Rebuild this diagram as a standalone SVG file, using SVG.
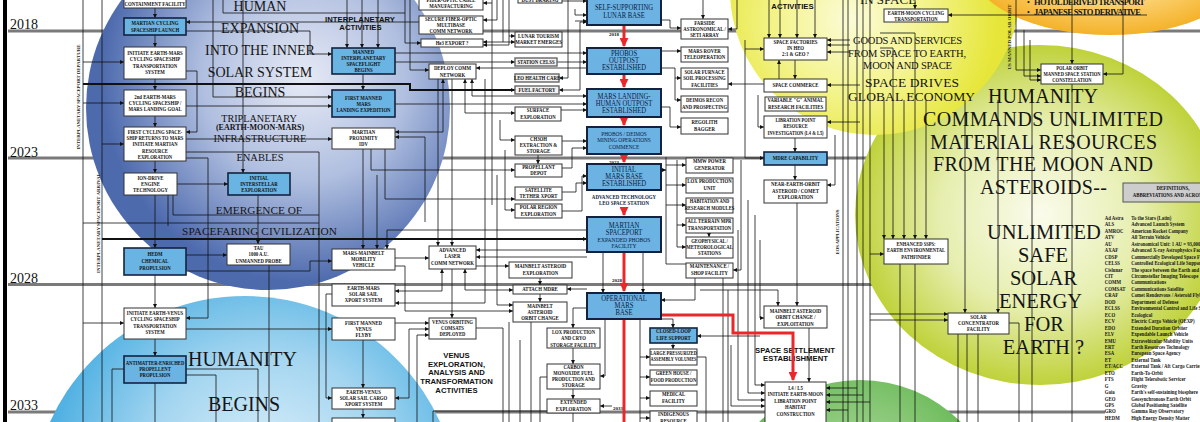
<svg xmlns="http://www.w3.org/2000/svg" width="1200" height="422" viewBox="0 0 1200 422">
<defs>
<radialGradient id="gB" cx="0.6" cy="0.42" r="0.56"><stop offset="0" stop-color="#e6eaf5"/><stop offset="0.5" stop-color="#b0bfe0"/><stop offset="1" stop-color="#4d6aad"/></radialGradient>
<radialGradient id="gL" cx="0.55" cy="0.42" r="0.52"><stop offset="0" stop-color="#e2f2fb"/><stop offset="0.55" stop-color="#a3d5f0"/><stop offset="1" stop-color="#4cafe2"/></radialGradient>
<radialGradient id="gY" cx="0.42" cy="0.6" r="0.5"><stop offset="0" stop-color="#fbfbd8"/><stop offset="0.5" stop-color="#f4f490"/><stop offset="1" stop-color="#e6e63a"/></radialGradient>
<radialGradient id="gO" cx="0.5" cy="0.5" r="0.5"><stop offset="0" stop-color="#fff0c0"/><stop offset="0.55" stop-color="#fcd273"/><stop offset="1" stop-color="#f4b22a"/></radialGradient>
<radialGradient id="gG" cx="0.5" cy="0.5" r="0.5"><stop offset="0" stop-color="#fafcec"/><stop offset="0.55" stop-color="#e6eeae"/><stop offset="1" stop-color="#bfd23a"/></radialGradient>
<radialGradient id="gD" cx="0.5" cy="0.35" r="0.55"><stop offset="0" stop-color="#b4dca4"/><stop offset="1" stop-color="#55b042"/></radialGradient>
<marker id="ar" viewBox="0 0 6 6" refX="6" refY="3" markerWidth="4" markerHeight="4" markerUnits="userSpaceOnUse" orient="auto-start-reverse"><path d="M0 0L6 3L0 6z" fill="#111"/></marker>
<marker id="ra" viewBox="0 0 10 10" refX="9" refY="5" markerWidth="9" markerHeight="9" markerUnits="userSpaceOnUse" orient="auto"><path d="M0 0L10 5L0 10z" fill="#e8282a"/></marker>
</defs>
<style>
.w{fill:#fff;stroke:#333;stroke-width:1}
.gr{fill:#f3f3f3;stroke:#666;stroke-width:1.4}
.b{fill:#6ab4e4;stroke:#13233f;stroke-width:1.6}
.mb{fill:#6cb2e2;stroke:#13233f;stroke-width:2}
.s{font-family:"Liberation Serif","Times New Roman",serif;font-weight:bold;font-size:6px;text-anchor:middle;fill:#111}
.m{font-family:"Liberation Serif","Times New Roman",serif;font-size:7.4px;text-anchor:middle;fill:#0b1c44}
.m2{font-family:"Liberation Serif","Times New Roman",serif;font-size:6.2px;text-anchor:middle;fill:#0b1c44}
.big{font-family:"Liberation Serif","Times New Roman",serif;text-anchor:middle;fill:#151515}
.hs{font-family:"Liberation Sans",Arial,sans-serif;font-weight:bold;font-size:7.7px;text-anchor:middle;fill:#111}
.yr{font-family:"Liberation Serif","Times New Roman",serif;font-size:14px;fill:#111}
.ys{font-family:"Liberation Serif","Times New Roman",serif;font-weight:bold;font-size:5px;fill:#111}
.vt{font-family:"Liberation Serif","Times New Roman",serif;font-weight:bold;font-size:5px;text-anchor:middle;fill:#222}
.def{font-family:"Liberation Serif","Times New Roman",serif;font-weight:bold;font-size:6px;fill:#161616}
.c path{fill:none;stroke:#111;stroke-width:.8}
.c .a{marker-end:url(#ar)}
.c .bi{marker-start:url(#ar);marker-end:url(#ar)}
.c .th{stroke-width:2}
.c .red{stroke:#e8282a;stroke-width:3;marker-end:url(#ra)}
.c .rn{stroke:#e8282a;stroke-width:3}
</style>
<rect width="1200" height="422" fill="#fff"/>
<rect x="3" y="0" width="4" height="422" fill="#000"/>
<g id="yearlines"><path d="M8 31H1200M8 158H1200M8 284.5H1200M8 412H1105" stroke="#7a7a7a" stroke-width="3" fill="none"/></g>
<g id="backdrop">
<ellipse cx="1040" cy="215" rx="185" ry="170" fill="url(#gG)"/>
<circle cx="860" cy="522" r="142" fill="url(#gD)"/>
<circle cx="875" cy="-10" r="145" fill="url(#gY)"/>
<ellipse cx="1110" cy="-35" rx="140" ry="70" fill="url(#gO)"/>
<circle cx="245" cy="510" r="214" fill="url(#gL)"/>
<circle cx="268" cy="108" r="182" fill="url(#gB)"/>
</g>
<g id="themes" class="big">
<text x="260" y="11" font-size="14">HUMAN</text>
<text x="260" y="33" font-size="14">EXPANSION</text>
<text x="260" y="55" font-size="14">INTO THE INNER</text>
<text x="260" y="77" font-size="14">SOLAR SYSTEM</text>
<text x="260" y="97" font-size="14">BEGINS</text>
<text x="259" y="121.5" font-size="10.2">TRIPLANETARY</text>
<text x="260" y="129.5" font-size="8" font-weight="bold">(EARTH-MOON-MARS)</text>
<text x="260" y="141.5" font-size="10.5">INFRASTRUCTURE</text>
<text x="260" y="161" font-size="10.5">ENABLES</text>
<text x="259" y="214" font-size="11.3">EMERGENCE OF</text>
<text x="259.5" y="235" font-size="11.3" textLength="155">SPACEFARING CIVILIZATION</text>
<text x="242.5" y="366" font-size="20">HUMANITY</text>
<text x="244" y="411" font-size="20">BEGINS</text>
<text x="888" y="3.5" font-size="13">IN SPACE</text>
<text x="907.5" y="44" font-size="10.5" textLength="109">GOODS AND SERVICES</text>
<text x="907" y="57" font-size="10.5" textLength="118">FROM SPACE TO EARTH,</text>
<text x="907.5" y="68.5" font-size="10.5" textLength="89">MOON AND SPACE</text>
<text x="912" y="87" font-size="13.5" textLength="94">SPACE DRIVES</text>
<text x="911.5" y="101" font-size="13.5" textLength="127">GLOBAL ECONOMY</text>
<text x="1043" y="102.5" font-size="20" textLength="110">HUMANITY</text>
<text x="1043" y="125.5" font-size="20" textLength="240">COMMANDS UNLIMITED</text>
<text x="1043.5" y="148.5" font-size="20" textLength="227">MATERIAL RESOURCES</text>
<text x="1043" y="171" font-size="20" textLength="220">FROM THE MOON AND</text>
<text x="1043.5" y="194" font-size="20" textLength="127">ASTEROIDS--</text>
<text x="1044" y="239" font-size="20.5">UNLIMITED</text>
<text x="1043" y="262" font-size="20.5">SAFE</text>
<text x="1043.5" y="285" font-size="20.5">SOLAR</text>
<text x="1040.5" y="308" font-size="20.5">ENERGY</text>
<text x="1044" y="331" font-size="20.5">FOR</text>
<text x="1043.5" y="354" font-size="20.5">EARTH ?</text>
<text x="1027" y="5" font-size="8" text-anchor="start">•</text>
<text x="1027" y="15" font-size="8" text-anchor="start">•</text>
<text x="1034" y="5" font-size="8.5" font-weight="bold" text-anchor="start" textLength="111">HOTOL DERIVED TRANSPORT</text>
<text x="1034" y="15" font-size="8.5" font-weight="bold" text-anchor="start" textLength="107">JAPANESE SSTO DERIVATIVE</text>
</g>
<g id="activity-labels" class="hs">
<text x="360" y="22" textLength="70">INTERPLANETARY</text>
<text x="360.5" y="30">ACTIVITIES</text>
<text x="792.5" y="8.5">ACTIVITIES</text>
<text x="795" y="353" textLength="80">SPACE SETTLEMENT</text>
<text x="795.5" y="360.5">ESTABLISHMENT</text>
<text x="456.5" y="358">VENUS</text>
<text x="456.5" y="366.7">EXPLORATION,</text>
<text x="456.5" y="375.4">ANALYSIS AND</text>
<text x="456.5" y="384.1">TRANSFORMATION</text>
<text x="456.5" y="392.8">ACTIVITIES</text>
</g>
<g id="years">
<text class="yr" x="10" y="29">2018</text>
<text class="yr" x="10" y="157">2023</text>
<text class="yr" x="10" y="283">2028</text>
<text class="yr" x="10" y="410">2033</text>
<text class="ys" x="609" y="36">2018</text>
<text class="ys" x="609" y="164">2023</text>
<text class="ys" x="612" y="282">2028</text>
<text class="ys" x="613" y="410">2033</text>
<text class="vt" transform="translate(80 97) rotate(-90)" textLength="105">INTERPLANETARY SPACEPORT DEPARTURE</text>
<text class="vt" transform="translate(99.5 223) rotate(-90)" textLength="100">INTERPLANETARY SPACEPORT ARRIVAL</text>
<text class="vt" transform="translate(1011 37) rotate(-90)" textLength="65">US MANNED POLAR ORBIT</text>
<text class="vt" transform="translate(838.5 232) rotate(-90)" textLength="45">EOS APPLICATIONS</text>
</g>
<g id="connectors" class="c">
<path d="M83 0V422M102 0V422"/>
<path class="a" d="M155 8V18"/><path class="a" d="M155 35V47"/><path class="a" d="M155 79V90"/><path class="a" d="M155 116V127"/><path class="a" d="M155 161V173"/><path class="a" d="M155 195V248"/><path class="a" d="M155 275V308"/><path class="a" d="M155 339V356"/><path d="M155 383V422"/>
<path class="a" d="M83 62H124"/><path class="a" d="M83 103H124"/><path class="a" d="M102 144H124"/><path class="a" d="M83 323H124"/>
<path class="a th" d="M83 84H410V90H515"/>
<path class="a th" d="M102 239H587"/>
<path class="a" d="M419 22H186"/>
<path class="a" d="M186 31H310V54H332"/>
<path class="a" d="M186 71H197V132H186"/>
<path class="a" d="M186 139H332"/>
<path d="M186 152H319V422"/>
<path class="a" d="M186 158H208V318H186"/>
<path class="a" d="M177 184H228"/>
<path d="M173 195V215H319M168 195V226"/>
<path class="a" d="M243 0V173"/>
<path class="a" d="M258 195V244"/>
<path class="a" d="M186 255H227"/>
<path class="a" d="M186 271H310V261H332"/>
<path d="M269 265V422"/>
<path class="a" d="M186 329H332"/>
<path d="M124 369H112V422M186 369H258V422M186 375H216V422"/>
<path class="a" d="M213 0V97H332"/>
<path d="M223 0V13H405"/>
<path d="M83 223H319"/>
<path class="a" d="M347 0V48"/><path class="a" d="M362 0V48"/><path class="a" d="M378 0V48"/>
<path class="a" d="M395 53H587"/>
<path class="a" d="M395 62H515"/>
<path class="a" d="M363 74V90"/>
<path class="a" d="M186 106H332"/>
<path class="a" d="M395 104H587"/>
<path class="bi" d="M395 132H443V79"/>
<path class="a" d="M405 0V43H421"/>
<path class="a" d="M410 0V70H429"/>
<path class="a" d="M587 68H476"/>
<path class="bi" d="M515 113H465V79"/>
<path class="bi" d="M587 96H472V79"/>
<path class="a" d="M438 79V246"/>
<path class="a" d="M452 79V246"/>
<path class="a" d="M385 149V199H515"/>
<path class="a" d="M371 149V170H515"/>
<path class="a" d="M363 149V249"/>
<path class="a" d="M377 175V249"/>
<path class="a" d="M587 230H387V249"/>
<path class="a" d="M425 137H395"/><path d="M425 137V222"/>
<path d="M492 0V205"/>
<path class="a" d="M497 0V20H483"/>
<path class="a" d="M503 0V42H515"/>
<path class="a" d="M503 42H483"/>
<path class="a" d="M509 0V45H483"/>
<path class="a" d="M492 3H483"/>
<path class="a" d="M509 36H515"/>
<path class="a" d="M500 120V140H515"/>
<path class="a" d="M505 150V210H515"/>
<path class="a" d="M497 175V305H513"/>
<path class="a" d="M562 1H587"/>
<path class="a" d="M575 9V15H587"/><path class="a" d="M575 21H587"/>
<path class="a" d="M568 0V78H559"/>
<path class="bi" d="M587 22H580V90H559"/>
<path class="a" d="M557 62H587"/>
<path class="a" d="M561 110H587"/>
<path class="a" d="M562 141H587"/>
<path class="a" d="M538 155V164"/>
<path class="a" d="M562 168H572V148H587"/>
<path class="a" d="M562 192H576V183H587"/>
<path class="a" d="M562 211H582V176H587"/>
<path class="a" d="M540 278V285"/>
<path class="a" d="M540 294V302"/>
<path class="a" d="M587 289H567"/>
<path class="a" d="M476 266H509"/>
<path class="a" d="M587 250H476"/>
<path class="a" d="M587 257H476"/>
<path class="a" d="M395 258H429"/>
<path class="a" d="M395 266H405V311H513"/>
<path class="bi" d="M395 291H442V269"/>
<path class="bi" d="M513 290H465V269"/>
<path class="a" d="M485 79V303H395"/>
<path class="a" d="M452 269V318"/>
<path class="a" d="M332 294H326V398H332"/>
<path class="a" d="M363 340V388"/>
<path class="a" d="M395 323H429"/>
<path class="bi" d="M395 398H409V329H429"/>
<path class="a" d="M417 422V335H429"/>
<path d="M476 328H503V422"/>
<path d="M531 322V422M509 322V422M520 340V422"/>
<path class="a" d="M587 308H573V328"/>
<path class="a" d="M573 348V364"/>
<path class="a" d="M573 389V399"/>
<path d="M573 413V422"/>
<path class="a" d="M605 319V376H600"/>
<path class="a" d="M612 406H600"/>
<path d="M547 377H540V422"/>
<path d="M433 411H547M433 411V422"/>
<path class="a" d="M363 409V418"/>
<path class="a" d="M661 20H670V28H681"/>
<path class="a" d="M703 0V19"/>
<path class="a" d="M737 0V29H728"/>
<path class="a" d="M661 51H681"/>
<path class="a" d="M661 68H675V100H681"/>
<path class="a" d="M675 78H681"/>
<path class="a" d="M661 107H670V127H681"/>
<path class="a" d="M764 84H728"/>
<path d="M666 157V264H686"/>
<path class="a" d="M661 170H666"/>
<path class="a" d="M666 165H686"/><path class="a" d="M666 185H686"/><path class="a" d="M666 205H686"/>
<path class="a" d="M677 160V247H686"/>
<path class="a" d="M677 225H686"/>
<path class="a" d="M709 233V237"/>
<path class="a" d="M741 160V270H733"/>
<path class="a" d="M695 278V300H661"/>
<path class="a" d="M603 252V293"/>
<path class="a" d="M643 252V293"/>
<path class="a" d="M661 319H673V328"/>
<path class="a" d="M673 343V349"/>
<path class="a" d="M760 336H697"/>
<path d="M640 319V422"/>
<path class="a" d="M640 357H650"/><path class="a" d="M640 377H650"/><path class="a" d="M640 398H650"/><path class="a" d="M640 418H650"/>
<path d="M697 357H706V422M723 270V422M728 290V422"/>
<path class="a" d="M769 0V38"/><path class="a" d="M780 0V38"/><path class="a" d="M797 0V38"/><path class="a" d="M815 0V38"/>
<path class="a" d="M745 40V158H764"/>
<path class="a" d="M745 49H764"/>
<path class="a" d="M850 40H827"/><path class="a" d="M850 45H827"/><path class="a" d="M850 52H827"/>
<path class="a" d="M795 60V79"/>
<path class="a" d="M779 79V60"/>
<path class="a" d="M860 85H827"/>
<path class="a" d="M795 138V152"/>
<path class="a" d="M795 165V180"/>
<path class="a" d="M758 95V127H764"/>
<path class="a" d="M860 122H827"/>
<path class="a" d="M835 135V185H827"/>
<path class="a" d="M797 203V306"/>
<path class="a" d="M700 290H778V306"/>
<path class="a" d="M809 328V382"/>
<path class="a" d="M760 240V318H764"/>
<path class="a" d="M755 215V385H765"/>
<path class="a" d="M748 200V393H765"/>
<path class="a" d="M738 230V400H765"/>
<path class="a" d="M731 345V406H765"/>
<path class="a" d="M857 388H826"/><path class="a" d="M863 395H826"/><path class="a" d="M870 402H826"/><path class="a" d="M848 410H826"/>
<path d="M843 0V422M848 0V422M857 0V422M863 0V422M870 0V422"/>
<path class="a" d="M915 0V9"/>
<path class="a" d="M1147 15H948"/>
<path class="a" d="M1072 0V64"/>
<path class="a" d="M1016 0V70H1041"/><path class="a" d="M1024 30V76H1041"/><path class="a" d="M1030 40V80H1041"/>
<path class="a" d="M1123 0V74H1103"/>
<path d="M1032 90V422M1072 84V422"/>
<path class="a" d="M965 100V313"/>
<path class="a" d="M998 100V313"/>
<path class="a" d="M884 100V239"/><path class="a" d="M893 100V239"/><path class="a" d="M904 100V239"/><path class="a" d="M915 100V239"/><path class="a" d="M926 100V239"/>
<path d="M880 33H915V100M880 48H893V100"/>
<path d="M900 264V422M915 264V422"/>
<path class="a" d="M870 254H884"/>
<path class="a" d="M870 314H948"/><path class="a" d="M870 320H948"/>
<path d="M958 334V422M967 334V422M978 334V422"/>
<path d="M1009 323H1019V422"/>
<path class="red" d="M624 25V46"/>
<path class="red" d="M624 74V87"/>
<path class="red" d="M624 117V125"/>
<path class="red" d="M624 154V162"/>
<path class="red" d="M624 207V215"/>
<path class="red" d="M624 252V291"/>
<path class="rn" d="M624 319V422"/>
<path class="red" d="M661 315H733V333H793V380"/>
</g>
<g id="n-containment"><rect class="w" x="124" y="-6" width="62" height="14"/><g transform="translate(155 0) scale(.8 1)"><text class="s" x="0" y="5.5">CONTAINMENT FACILITY</text></g></g>
<g id="n-martian-cycling-launch"><rect class="b" x="124" y="18" width="62" height="17"/><g transform="translate(155 0) scale(.8 1)"><text class="s" x="0" y="25.5">MARTIAN CYCLING</text><text class="s" x="0" y="32">SPACESHIP LAUNCH</text></g></g>
<g id="n-earth-mars-cycling"><rect class="w" x="124" y="47" width="62" height="32"/><g transform="translate(155 0) scale(.8 1)"><text class="s" x="0" y="55">INITIATE EARTH-MARS</text><text class="s" x="0" y="61.5">CYCLING SPACESHIP</text><text class="s" x="0" y="68">TRANSPORTATION</text><text class="s" x="0" y="74.5">SYSTEM</text></g></g>
<g id="n-2nd-earth-mars"><rect class="w" x="124" y="90" width="62" height="26"/><g transform="translate(155 0) scale(.8 1)"><text class="s" x="0" y="99">2nd EARTH-MARS</text><text class="s" x="0" y="105">CYCLING SPACESHIP /</text><text class="s" x="0" y="111">MARS LANDING GOAL</text></g></g>
<g id="n-first-cycling"><rect class="w" x="124" y="127" width="62" height="34"/><g transform="translate(155 0) scale(.78 1)"><text class="s" x="0" y="134">FIRST CYCLING SPACE-</text><text class="s" x="0" y="140">SHIP RETURNS TO MARS</text><text class="s" x="0" y="146.5">INITIATE MARTIAN</text><text class="s" x="0" y="153">RESOURCE</text><text class="s" x="0" y="159">EXPLORATION</text></g></g>
<g id="n-ion-drive"><rect class="w" x="124" y="173" width="53" height="22"/><g transform="translate(150.5 0) scale(.8 1)"><text class="s" x="0" y="180">ION-DRIVE</text><text class="s" x="0" y="186">ENGINE</text><text class="s" x="0" y="192.5">TECHNOLOGY</text></g></g>
<g id="n-interstellar"><rect class="b" x="228" y="173" width="62" height="22"/><g transform="translate(259 0) scale(.8 1)"><text class="s" x="0" y="180">INITIAL</text><text class="s" x="0" y="186">INTERSTELLAR</text><text class="s" x="0" y="192.5">EXPLORATION</text></g></g>
<g id="n-hedm"><rect class="b" x="124" y="248" width="62" height="27"/><g transform="translate(155 0) scale(.8 1)"><text class="s" x="0" y="256">HEDM</text><text class="s" x="0" y="263">CHEMICAL</text><text class="s" x="0" y="270">PROPULSION</text></g></g>
<g id="n-tau"><rect class="w" x="227" y="244" width="63" height="21"/><g transform="translate(258.5 0) scale(.8 1)"><text class="s" x="0" y="250">TAU</text><text class="s" x="0" y="256.5">1000 A.U.</text><text class="s" x="0" y="263">UNMANNED PROBE</text></g></g>
<g id="n-earth-venus-cycling"><rect class="w" x="124" y="308" width="62" height="31"/><g transform="translate(155 0) scale(.78 1)"><text class="s" x="0" y="315">INITIATE EARTH-VENUS</text><text class="s" x="0" y="321.5">CYCLING SPACESHIP</text><text class="s" x="0" y="328">TRANSPORTATION</text><text class="s" x="0" y="334.5">SYSTEM</text></g></g>
<g id="n-antimatter"><rect class="b" x="124" y="356" width="62" height="27"/><g transform="translate(155 0) scale(.78 1)"><text class="s" x="0" y="365">ANTIMATTER-ENRICHED</text><text class="s" x="0" y="371">PROPELLENT</text><text class="s" x="0" y="377">PROPULSION</text></g></g>
<g id="n-manned-interplanetary"><rect class="b" x="332" y="48" width="63" height="26"/><g transform="translate(363.5 0) scale(.8 1)"><text class="s" x="0" y="54">MANNED</text><text class="s" x="0" y="60">INTERPLANETARY</text><text class="s" x="0" y="66">SPACEFLIGHT</text><text class="s" x="0" y="72">BEGINS</text></g></g>
<g id="n-first-mars-landing"><rect class="b" x="332" y="90" width="63" height="27"/><g transform="translate(363.5 0) scale(.8 1)"><text class="s" x="0" y="100">FIRST MANNED</text><text class="s" x="0" y="106">MARS</text><text class="s" x="0" y="112">LANDING EXPEDITION</text></g></g>
<g id="n-proximity-idv"><rect class="w" x="332" y="128" width="63" height="21"/><g transform="translate(363.5 0) scale(.8 1)"><text class="s" x="0" y="134">MARTIAN</text><text class="s" x="0" y="140">PROXIMITY</text><text class="s" x="0" y="146">IDV</text></g></g>
<g id="n-deploy-comm"><rect class="w" x="429" y="64" width="47" height="15"/><g transform="translate(452.5 0) scale(.8 1)"><text class="s" x="0" y="70.5">DEPLOY COMM</text><text class="s" x="0" y="77">NETWORK</text></g></g>
<g id="n-fiber-cable"><rect class="w" x="419" y="-6" width="64" height="16"/><g transform="translate(451 0) scale(.8 1)"><text class="s" x="0" y="1.5">FIBER-OPTIC CABLE</text><text class="s" x="0" y="8">MANUFACTURING</text></g></g>
<g id="n-secure-fiber"><rect class="w" x="419" y="16" width="64" height="18"/><g transform="translate(451 0) scale(.8 1)"><text class="s" x="0" y="21">SECURE FIBER-OPTIC</text><text class="s" x="0" y="27">MULTIBASE</text><text class="s" x="0" y="33">COMM NETWORK</text></g></g>
<g id="n-he3"><rect class="w" x="421" y="39" width="62" height="8"/><g transform="translate(452 0) scale(.8 1)"><text class="s" x="0" y="45.3">He3 EXPORT ?</text></g></g>
<g id="n-dust-braking"><rect class="w" x="518" y="-6" width="44" height="9"/><g transform="translate(540 0) scale(.8 1)"><text class="s" x="0" y="1.5">DUST BRAKING</text></g></g>
<g id="n-lunar-tourism"><rect class="w" x="515" y="32" width="47" height="15"/><g transform="translate(538.5 0) scale(.8 1)"><text class="s" x="0" y="38">LUNAR TOURISM</text><text class="s" x="0" y="44.5">MARKET EMERGES</text></g></g>
<g id="n-station-celss"><rect class="gr" x="515" y="58" width="42" height="8"/><g transform="translate(536 0) scale(.8 1)"><text class="s" x="0" y="64.2">STATION CELSS</text></g></g>
<g id="n-leo-health"><rect class="gr" x="515" y="74" width="44" height="8"/><g transform="translate(537 0) scale(.8 1)"><text class="s" x="0" y="80.2">LEO HEALTH CARE</text></g></g>
<g id="n-fuel-factory"><rect class="gr" x="515" y="86" width="44" height="8"/><g transform="translate(537 0) scale(.8 1)"><text class="s" x="0" y="92.2">FUEL FACTORY</text></g></g>
<g id="n-surface-exploration"><rect class="w" x="515" y="107" width="46" height="14"/><g transform="translate(538 0) scale(.8 1)"><text class="s" x="0" y="112.5">SURFACE</text><text class="s" x="0" y="119">EXPLORATION</text></g></g>
<g id="n-ch3oh"><rect class="w" x="515" y="136" width="47" height="19"/><g transform="translate(538.5 0) scale(.8 1)"><text class="s" x="0" y="141.5">CH3OH</text><text class="s" x="0" y="147.5">EXTRACTION &amp;</text><text class="s" x="0" y="153.5">STORAGE</text></g></g>
<g id="n-propellant-depot"><rect class="w" x="515" y="164" width="47" height="13"/><g transform="translate(538.5 0) scale(.8 1)"><text class="s" x="0" y="169.5">PROPELLANT</text><text class="s" x="0" y="175.5">DEPOT</text></g></g>
<g id="n-tether"><rect class="w" x="515" y="187" width="47" height="13"/><g transform="translate(538.5 0) scale(.8 1)"><text class="s" x="0" y="192.5">SATELLITE</text><text class="s" x="0" y="198.5">TETHER XPORT</text></g></g>
<g id="n-polar-region"><rect class="w" x="515" y="204" width="47" height="14"/><g transform="translate(538.5 0) scale(.8 1)"><text class="s" x="0" y="209.5">POLAR REGION</text><text class="s" x="0" y="216">EXPLORATION</text></g></g>
<g id="n-lunar-base"><rect class="mb" x="587" y="-3" width="74" height="28"/><g transform="translate(624 0) scale(.9 1)"><text class="m" x="0" y="10.5">SELF-SUPPORTING</text><text class="m" x="0" y="18">LUNAR BASE</text></g></g>
<g id="n-phobos-outpost"><rect class="mb" x="587" y="48" width="74" height="26"/><g transform="translate(624 0) scale(.9 1)"><text class="m" x="0" y="56.5">PHOBOS</text><text class="m" x="0" y="63.5">OUTPOST</text><text class="m" x="0" y="70.5">ESTABLISHED</text></g></g>
<g id="n-mars-landing-outpost"><rect class="mb" x="587" y="89" width="74" height="28"/><g transform="translate(624 0) scale(.9 1)"><text class="m" x="0" y="99">MARS LANDING-</text><text class="m" x="0" y="106">HUMAN OUTPOST</text><text class="m" x="0" y="113">ESTABLISHED</text></g></g>
<g id="n-mining"><rect class="mb" x="587" y="127" width="74" height="27"/><g transform="translate(624 0) scale(.86 1)"><text class="m2" x="0" y="136">PHOBOS / DEIMOS</text><text class="m2" x="0" y="142.5">MINING OPERATIONS</text><text class="m2" x="0" y="149">COMMENCE</text></g></g>
<g id="n-initial-mars-base"><rect class="mb" x="587" y="164" width="74" height="26"/><g transform="translate(624 0) scale(.9 1)"><text class="m" x="0" y="172.5">INITIAL</text><text class="m" x="0" y="179.5">MARS BASE</text><text class="m" x="0" y="186.5">ESTABLISHED</text></g></g>
<g id="lbl-leo-station"><g transform="translate(624 0) scale(.82 1)"><text class="s" x="0" y="199.5" style="fill:#0b1c44">ADVANCED TECHNOLOGY</text><text class="s" x="0" y="205.5" style="fill:#0b1c44">LEO SPACE STATION</text></g></g>
<g id="n-martian-spaceport"><rect class="mb" x="587" y="217" width="74" height="35"/><g transform="translate(624 0) scale(.9 1)"><text class="m" x="0" y="228.5">MARTIAN</text><text class="m" x="0" y="235.5">SPACEPORT</text><text class="m2" x="0" y="242">EXPANDED PHOBOS</text><text class="m2" x="0" y="248">FACILITY</text></g></g>
<g id="n-operational-mars"><rect class="mb" x="587" y="293" width="74" height="26"/><g transform="translate(624 0) scale(.9 1)"><text class="m" x="0" y="301.5">OPERATIONAL</text><text class="m" x="0" y="308.5">MARS</text><text class="m" x="0" y="315.5">BASE</text></g></g>
<g id="n-farside"><rect class="w" x="681" y="19" width="47" height="20"/><g transform="translate(704.5 0) scale(.8 1)"><text class="s" x="0" y="25">FARSIDE</text><text class="s" x="0" y="31">ASTRONOMICAL /</text><text class="s" x="0" y="37">SETI ARRAY</text></g></g>
<g id="n-rover"><rect class="w" x="681" y="47" width="47" height="15"/><g transform="translate(704.5 0) scale(.8 1)"><text class="s" x="0" y="53">MARS ROVER</text><text class="s" x="0" y="59.5">TELEOPERATION</text></g></g>
<g id="n-solar-furnace"><rect class="w" x="681" y="68" width="47" height="21"/><g transform="translate(704.5 0) scale(.78 1)"><text class="s" x="0" y="74.5">SOLAR FURNACE</text><text class="s" x="0" y="80.5">SOIL PROCESSING</text><text class="s" x="0" y="87">FACILITIES</text></g></g>
<g id="n-deimos-recon"><rect class="w" x="681" y="96" width="47" height="16"/><g transform="translate(704.5 0) scale(.78 1)"><text class="s" x="0" y="102">DEIMOS RECON</text><text class="s" x="0" y="109">AND PROSPECTING</text></g></g>
<g id="n-regolith"><rect class="w" x="681" y="118" width="47" height="16"/><g transform="translate(704.5 0) scale(.8 1)"><text class="s" x="0" y="124.5">REGOLITH</text><text class="s" x="0" y="131">BAGGER</text></g></g>
<g id="n-mmw"><rect class="w" x="686" y="158" width="47" height="15"/><g transform="translate(709.5 0) scale(.8 1)"><text class="s" x="0" y="163.5">MMW POWER</text><text class="s" x="0" y="170">GENERATOR</text></g></g>
<g id="n-lox-unit"><rect class="w" x="686" y="178" width="47" height="15"/><g transform="translate(709.5 0) scale(.8 1)"><text class="s" x="0" y="183.5">LOX PRODUCTION</text><text class="s" x="0" y="190">UNIT</text></g></g>
<g id="n-habitation"><rect class="w" x="686" y="198" width="47" height="15"/><g transform="translate(709.5 0) scale(.76 1)"><text class="s" x="0" y="203.5">HABITATION AND</text><text class="s" x="0" y="210">RESEARCH MODULES</text></g></g>
<g id="n-all-terrain"><rect class="w" x="686" y="218" width="47" height="15"/><g transform="translate(709.5 0) scale(.78 1)"><text class="s" x="0" y="223.5">ALL TERRAIN MPR</text><text class="s" x="0" y="230">TRANSPORTATION</text></g></g>
<g id="n-geophysical"><rect class="w" x="686" y="237" width="47" height="21"/><g transform="translate(709.5 0) scale(.78 1)"><text class="s" x="0" y="243">GEOPHYSICAL /</text><text class="s" x="0" y="249">METEOROLOGICAL</text><text class="s" x="0" y="255.5">STATIONS</text></g></g>
<g id="n-maintenance"><rect class="w" x="686" y="263" width="47" height="15"/><g transform="translate(709.5 0) scale(.8 1)"><text class="s" x="0" y="268.5">MAINTENANCE /</text><text class="s" x="0" y="275">SHOP FACILITY</text></g></g>
<g id="n-closed-loop"><rect class="b" x="650" y="328" width="47" height="15"/><g transform="translate(673.5 0) scale(.8 1)"><text class="s" x="0" y="333.5">CLOSED-LOOP</text><text class="s" x="0" y="340">LIFE SUPPORT</text></g></g>
<g id="n-pressurized"><rect class="w" x="650" y="349" width="47" height="16"/><g transform="translate(673.5 0) scale(.72 1)"><text class="s" x="0" y="355">LARGE PRESSURIZED</text><text class="s" x="0" y="361.5">ASSEMBLY VOLUMES</text></g></g>
<g id="n-greenhouse"><rect class="w" x="650" y="370" width="47" height="15"/><g transform="translate(673.5 0) scale(.76 1)"><text class="s" x="0" y="375.5">GREEN HOUSE /</text><text class="s" x="0" y="382">FOOD PRODUCTION</text></g></g>
<g id="n-medical"><rect class="w" x="650" y="391" width="47" height="15"/><g transform="translate(673.5 0) scale(.8 1)"><text class="s" x="0" y="396.5">MEDICAL</text><text class="s" x="0" y="403">FACILITY</text></g></g>
<g id="n-indigenous"><rect class="w" x="650" y="411" width="47" height="20"/><g transform="translate(673.5 0) scale(.8 1)"><text class="s" x="0" y="416.5">INDIGENOUS</text><text class="s" x="0" y="423">RESOURCE</text></g></g>
<g id="n-space-factories"><rect class="w" x="764" y="38" width="63" height="22"/><g transform="translate(795.5 0) scale(.8 1)"><text class="s" x="0" y="44">SPACE FACTORIES</text><text class="s" x="0" y="50">IN HEO</text><text class="s" x="0" y="56">2:1 &amp; GEO ?</text></g></g>
<g id="n-space-commerce"><rect class="w" x="764" y="79" width="63" height="13"/><g transform="translate(795.5 0) scale(.8 1)"><text class="s" x="0" y="87.5">SPACE COMMERCE</text></g></g>
<g id="n-variable-g"><rect class="w" x="765" y="97" width="61" height="14"/><g transform="translate(795.5 0) scale(.8 1)"><text class="s" x="0" y="102.5">VARIABLE "G" ANIMAL</text><text class="s" x="0" y="109">RESEARCH FACILITIES</text></g></g>
<g id="n-libration-resource"><rect class="w" x="764" y="116" width="63" height="22"/><g transform="translate(795.5 0) scale(.74 1)"><text class="s" x="0" y="122">LIBRATION POINT</text><text class="s" x="0" y="128.5">RESOURCE</text><text class="s" x="0" y="135">INVESTIGATION (L4 &amp; L5)</text></g></g>
<g id="n-mdre"><rect class="b" x="764" y="152" width="63" height="13"/><g transform="translate(795.5 0) scale(.8 1)"><text class="s" x="0" y="160.5">MDRE CAPABILITY</text></g></g>
<g id="n-near-earth"><rect class="w" x="764" y="180" width="63" height="23"/><g transform="translate(795.5 0) scale(.8 1)"><text class="s" x="0" y="186.5">NEAR-EARTH-ORBIT</text><text class="s" x="0" y="193">ASTEROID / COMET</text><text class="s" x="0" y="199.5">EXPLORATION</text></g></g>
<g id="n-mainbelt-exploitation"><rect class="w" x="764" y="306" width="63" height="22"/><g transform="translate(795.5 0) scale(.8 1)"><text class="s" x="0" y="313">MAINBELT ASTEROID</text><text class="s" x="0" y="319.5">ORBIT CHANGE /</text><text class="s" x="0" y="326">EXPLOITATION</text></g></g>
<g id="n-l4l5"><rect class="w" x="765" y="382" width="61" height="45"/><g transform="translate(795.5 0) scale(.78 1)"><text class="s" x="0" y="390">L4 / L5</text><text class="s" x="0" y="396.5">INITIATE EARTH-MOON</text><text class="s" x="0" y="403">LIBRATION POINT</text><text class="s" x="0" y="409.5">HABITAT</text><text class="s" x="0" y="416">CONSTRUCTION</text></g></g>
<g id="n-mars-mainbelt"><rect class="w" x="332" y="249" width="63" height="21"/><g transform="translate(363.5 0) scale(.8 1)"><text class="s" x="0" y="255">MARS-MAINBELT</text><text class="s" x="0" y="261">MOBILITY</text><text class="s" x="0" y="267.5">VEHICLE</text></g></g>
<g id="n-laser-comm"><rect class="w" x="429" y="246" width="47" height="23"/><g transform="translate(452.5 0) scale(.8 1)"><text class="s" x="0" y="252">ADVANCED</text><text class="s" x="0" y="258.5">LASER</text><text class="s" x="0" y="265">COMM NETWORK</text></g></g>
<g id="n-mainbelt-exploration"><rect class="w" x="509" y="262" width="63" height="16"/><g transform="translate(540.5 0) scale(.8 1)"><text class="s" x="0" y="268.5">MAINBELT ASTEROID</text><text class="s" x="0" y="275">EXPLORATION</text></g></g>
<g id="n-em-solar-sail"><rect class="w" x="332" y="284" width="63" height="22"/><g transform="translate(363.5 0) scale(.8 1)"><text class="s" x="0" y="290.5">EARTH-MARS</text><text class="s" x="0" y="296.5">SOLAR SAIL</text><text class="s" x="0" y="302.5">XPORT SYSTEM</text></g></g>
<g id="n-attach-mdre"><rect class="w" x="513" y="285" width="54" height="9"/><g transform="translate(540 0) scale(.8 1)"><text class="s" x="0" y="291.5">ATTACH MDRE</text></g></g>
<g id="n-orbit-change"><rect class="w" x="513" y="302" width="54" height="20"/><g transform="translate(540 0) scale(.8 1)"><text class="s" x="0" y="308">MAINBELT</text><text class="s" x="0" y="314">ASTEROID</text><text class="s" x="0" y="320">ORBIT CHANGE</text></g></g>
<g id="n-venus-flyby"><rect class="w" x="332" y="318" width="63" height="22"/><g transform="translate(363.5 0) scale(.8 1)"><text class="s" x="0" y="325">FIRST MANNED</text><text class="s" x="0" y="331">VENUS</text><text class="s" x="0" y="337">FLYBY</text></g></g>
<g id="n-venus-comsats"><rect class="w" x="429" y="318" width="47" height="21"/><g transform="translate(452.5 0) scale(.78 1)"><text class="s" x="0" y="324.5">VENUS ORBITING</text><text class="s" x="0" y="330.5">COMSATS</text><text class="s" x="0" y="336.5">DEPLOYED</text></g></g>
<g id="n-lox-cryo"><rect class="w" x="547" y="328" width="53" height="20"/><g transform="translate(573.5 0) scale(.78 1)"><text class="s" x="0" y="334">LOX PRODUCTION</text><text class="s" x="0" y="340.5">AND CRYO</text><text class="s" x="0" y="347">STORAGE FACILITY</text></g></g>
<g id="n-carbon-monoxide"><rect class="w" x="547" y="364" width="53" height="25"/><g transform="translate(573.5 0) scale(.78 1)"><text class="s" x="0" y="369.5">CARBON</text><text class="s" x="0" y="375.5">MONOXIDE FUEL</text><text class="s" x="0" y="381.5">PRODUCTION AND</text><text class="s" x="0" y="387.5">STORAGE</text></g></g>
<g id="n-extended-exploration"><rect class="w" x="547" y="399" width="53" height="14"/><g transform="translate(573.5 0) scale(.8 1)"><text class="s" x="0" y="404.5">EXTENDED</text><text class="s" x="0" y="411">EXPLORATION</text></g></g>
<g id="n-ev-solar-sail"><rect class="w" x="332" y="388" width="63" height="21"/><g transform="translate(363.5 0) scale(.8 1)"><text class="s" x="0" y="394.5">EARTH-VENUS</text><text class="s" x="0" y="400.5">SOLAR SAIL CARGO</text><text class="s" x="0" y="406.5">XPORT SYSTEM</text></g></g>
<g id="n-lower-partial"><rect class="w" x="332" y="418" width="63" height="14"/></g>
<g id="n-earth-moon-cycling"><rect class="w" x="884" y="9" width="64" height="13"/><g transform="translate(916 0) scale(.78 1)"><text class="s" x="0" y="14.7">EARTH-MOON CYCLING</text><text class="s" x="0" y="20.7">TRANSPORTATION</text></g></g>
<g id="n-polar-orbit-station"><rect class="w" x="1041" y="64" width="62" height="20"/><g transform="translate(1072 0) scale(.76 1)"><text class="s" x="0" y="70.5">POLAR ORBIT</text><text class="s" x="0" y="76.5">MANNED SPACE STATION</text><text class="s" x="0" y="82.5">CONSTELLATION</text></g></g>
<g id="n-enhanced-ssps"><rect class="w" x="884" y="239" width="64" height="25"/><g transform="translate(916 0) scale(.76 1)"><text class="s" x="0" y="246">ENHANCED SSPS:</text><text class="s" x="0" y="252.5">EARTH ENVIRONMENTAL</text><text class="s" x="0" y="259">PATHFINDER</text></g></g>
<g id="n-solar-concentrator"><rect class="w" x="948" y="313" width="61" height="21"/><g transform="translate(978.5 0) scale(.8 1)"><text class="s" x="0" y="319">SOLAR</text><text class="s" x="0" y="325">CONCENTRATOR</text><text class="s" x="0" y="331">FACILITY</text></g></g>
<g id="n-definitions"><rect x="1123" y="183" width="90" height="19" fill="#cdcdcd" stroke="#555" stroke-width="1"/><g transform="translate(1173 0) scale(.8 1)"><text class="s" x="0" y="190.5">DEFINITIONS,</text><text class="s" x="0" y="197.5">ABBREVIATIONS AND ACRONYMS</text></g></g>
<g id="glossary" transform="scale(.8 1)" class="def">
<text x="1381" y="220">Ad Astra</text><text x="1414" y="220">To the Stars (Latin)</text>
<text x="1381" y="226.5">ALS</text><text x="1414" y="226.5">Advanced Launch System</text>
<text x="1381" y="232.9">AMROC</text><text x="1414" y="232.9">American Rocket Company</text>
<text x="1381" y="239.4">ATV</text><text x="1414" y="239.4">All Terrain Vehicle</text>
<text x="1381" y="245.8">AU</text><text x="1414" y="245.8">Astronomical Unit:  1 AU = 93,000,000 mi</text>
<text x="1381" y="252.3">AXAF</text><text x="1414" y="252.3">Advanced X-ray Astrophysics Facility</text>
<text x="1381" y="258.7">CDSP</text><text x="1414" y="258.7">Commercially Developed Space Facility</text>
<text x="1381" y="265.2">CELSS</text><text x="1414" y="265.2">Controlled Ecological Life Support</text>
<text x="1381" y="271.6">Cislunar</text><text x="1414" y="271.6">The space between the Earth and Moon</text>
<text x="1381" y="278.1">CIT</text><text x="1414" y="278.1">Circumstellar Imaging Telescope</text>
<text x="1381" y="284.5">COMM</text><text x="1414" y="284.5">Communications</text>
<text x="1381" y="291">COMSAT</text><text x="1414" y="291">Communications Satellite</text>
<text x="1381" y="297.4">CRAF</text><text x="1414" y="297.4">Comet Rendezvous / Asteroid Flyby</text>
<text x="1381" y="303.9">DOD</text><text x="1414" y="303.9">Department of Defense</text>
<text x="1381" y="310.3">ECLSS</text><text x="1414" y="310.3">Environmental Control and Life Support</text>
<text x="1381" y="316.8">ECO</text><text x="1414" y="316.8">Ecological</text>
<text x="1381" y="323.2">ECV</text><text x="1414" y="323.2">Electric Cargo Vehicle (OEXP)</text>
<text x="1381" y="329.7">EDO</text><text x="1414" y="329.7">Extended Duration Orbiter</text>
<text x="1381" y="336.1">ELV</text><text x="1414" y="336.1">Expendable Launch Vehicle</text>
<text x="1381" y="342.6">EMU</text><text x="1414" y="342.6">Extravehicular Mobility Units</text>
<text x="1381" y="349">ERT</text><text x="1414" y="349">Earth Resources Technology</text>
<text x="1381" y="355.5">ESA</text><text x="1414" y="355.5">European Space Agency</text>
<text x="1381" y="361.9">ET</text><text x="1414" y="361.9">External Tank</text>
<text x="1381" y="368.4">ET/ACC</text><text x="1414" y="368.4">External Tank / Aft Cargo Carrier</text>
<text x="1381" y="374.8">ETO</text><text x="1414" y="374.8">Earth-To-Orbit</text>
<text x="1381" y="381.3">FTS</text><text x="1414" y="381.3">Flight Telerobotic Servicer</text>
<text x="1381" y="387.7">G</text><text x="1414" y="387.7">Gravity</text>
<text x="1381" y="394.2">Gaia</text><text x="1414" y="394.2">Earth's self-sustaining biosphere</text>
<text x="1381" y="400.6">GEO</text><text x="1414" y="400.6">Geosynchronous Earth Orbit</text>
<text x="1381" y="407.1">GPS</text><text x="1414" y="407.1">Global Positioning Satellite</text>
<text x="1381" y="413.5">GRO</text><text x="1414" y="413.5">Gamma Ray Observatory</text>
<text x="1381" y="420">HEDM</text><text x="1414" y="420">High Energy Density Matter</text>
</g>
</svg>
